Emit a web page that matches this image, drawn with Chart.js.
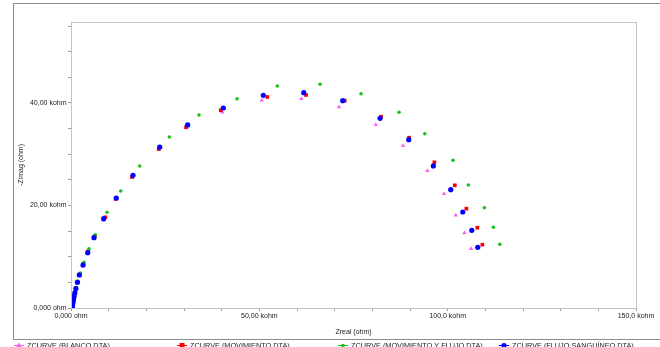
<!DOCTYPE html>
<html lang="es">
<head>
  <meta charset="UTF-8" />
  <title>ZCURVE - Nyquist</title>
  <style>
    html, body { margin: 0; padding: 0; background: #fff; }
    #wrap { width: 660px; height: 347px; }
  </style>
  <script src="https://cdn.jsdelivr.net/npm/chart.js"></script>
</head>
<body>
  <div id="wrap"><canvas id="nyquist" width="660" height="347"></canvas></div>

  <script>
    // values in kohm
    const blancoX = [0.28,0.30,0.32,0.35,0.39,0.43,0.49,0.57,0.67,0.80,1.00,1.28,1.68,2.15,3.10,4.35,6.00,8.55,11.85,16.30,23.30,30.62,40.18,50.64,61.15,71.16,80.91,88.16,94.61,99.04,102.15,104.43,106.21];
    const blancoY = [0.19,0.27,0.37,0.49,0.64,0.83,1.08,1.38,1.77,2.28,2.92,3.78,4.90,6.30,8.20,10.60,13.50,17.10,21.10,25.50,30.90,35.18,38.19,40.53,40.84,39.22,35.77,31.67,26.79,22.30,18.09,14.63,11.57];

    const movimientoX = [0.30,0.32,0.34,0.37,0.41,0.46,0.52,0.60,0.70,0.86,1.06,1.35,1.75,2.30,3.30,4.60,6.30,9.11,11.87,16.20,23.29,30.54,39.75,52.12,62.40,72.68,82.32,89.75,96.47,101.89,104.97,107.89,109.21];
    const movimientoY = [0.21,0.29,0.39,0.51,0.67,0.87,1.12,1.45,1.85,2.35,3.00,3.90,5.10,6.60,8.60,11.10,14.00,17.70,21.33,25.56,31.02,35.26,38.58,41.17,41.56,40.45,37.33,33.23,28.43,23.94,19.38,15.67,12.35];

    const movFlujoX = [0.30,0.32,0.34,0.37,0.41,0.46,0.52,0.60,0.70,0.85,1.05,1.35,1.78,2.47,3.45,4.78,6.45,9.56,13.20,18.24,26.10,33.99,44.08,54.78,66.12,77.00,87.09,93.92,101.43,105.50,109.74,112.14,113.84];
    const movFlujoY = [0.22,0.30,0.40,0.52,0.68,0.88,1.14,1.47,1.88,2.40,3.10,4.00,5.27,6.83,8.92,11.57,14.30,18.67,22.83,27.71,33.37,37.66,40.84,43.32,43.65,41.81,38.19,34.01,28.82,24.00,19.57,15.75,12.43];

    const flujoX = [0.29,0.31,0.33,0.36,0.40,0.44,0.50,0.58,0.68,0.82,1.02,1.30,1.70,2.20,3.19,4.43,6.11,8.68,12.03,16.46,23.55,30.98,40.44,51.06,61.79,72.15,82.05,89.67,96.20,100.82,104.01,106.40,107.99];
    const flujoY = [0.20,0.28,0.38,0.50,0.65,0.85,1.10,1.40,1.80,2.30,2.95,3.80,5.00,6.44,8.39,10.79,13.72,17.43,21.46,25.89,31.41,35.71,39.02,41.50,42.01,40.45,37.01,32.84,27.71,23.08,18.73,15.16,11.84];

    const seriesNames = ['ZCURVE (BLANCO.DTA)', 'ZCURVE (MOVIMIENTO.DTA)', 'ZCURVE (MOVIMIENTO Y FLUJO.DTA)', 'ZCURVE (FLUJO SANGUÍNEO.DTA)'];

    const xTickValues = [0, 50, 100, 150];
    const xTickLabels = ['0,000 ohm', '50,00 kohm', '100,0 kohm', '150,0 kohm'];
    const yTickValues = [0, 20, 40];
    const yTickLabels = ['0,000 ohm', '20,00 kohm', '40,00 kohm'];

    const FONT = 'Liberation Sans, Arial, sans-serif';

    function pairs(xs, ys) {
      return xs.map((x, i) => ({ x: x, y: ys[i] }));
    }

    function labelFor(values, labels) {
      return function (v) {
        const i = values.findIndex(t => Math.abs(t - v) < 1e-6);
        return i >= 0 ? labels[i] : '';
      };
    }

    // gray outer frame, plot box and the legend strip at the bottom
    const framePlugin = {
      id: 'frame',
      beforeDraw(chart) {
        const c = chart.ctx;
        c.save();
        c.fillStyle = '#fff';
        c.fillRect(0, 0, chart.width, chart.height);
        c.restore();
      },
      afterDraw(chart) {
        const c = chart.ctx;
        const a = chart.chartArea;
        c.save();
        c.strokeStyle = '#8c8c8c';
        c.lineWidth = 1;
        c.strokeRect(13.5, 3.5, 700, 336);
        c.strokeStyle = '#c4c4c4';
        c.strokeRect(Math.round(a.left) + 0.5, Math.round(a.top) + 0.5,
                     Math.round(a.right - a.left), Math.round(a.bottom - a.top));

        // legend
        const xs = [19, 182, 343, 504];
        const y = 345.5;
        c.font = '7.3px ' + FONT;
        c.textBaseline = 'middle';
        chart.data.datasets.forEach((ds, i) => {
          const cx = xs[i];
          c.strokeStyle = ds.borderColor;
          c.lineWidth = 1;
          c.beginPath();
          c.moveTo(cx - 5, y);
          c.lineTo(cx + 5, y);
          c.stroke();
          c.fillStyle = ds.backgroundColor;
          if (ds.pointStyle === 'rect') {
            c.fillRect(cx - 2.5, y - 2.5, 5, 5);
          } else if (ds.pointStyle === 'triangle') {
            c.beginPath();
            c.moveTo(cx, y - 3);
            c.lineTo(cx + 3, y + 2);
            c.lineTo(cx - 3, y + 2);
            c.closePath();
            c.fill();
          } else {
            c.beginPath();
            c.arc(cx, y, ds.pointRadius, 0, Math.PI * 2);
            c.fill();
          }
          c.fillStyle = '#222';
          c.textAlign = 'left';
          c.fillText(ds.label, cx + 8, y + 0.5);
        });
        c.restore();
      }
    };

    const ctx = document.getElementById('nyquist').getContext('2d');

    new Chart(ctx, {
      type: 'scatter',
      data: {
        datasets: [{
          label: seriesNames[0],
          data: pairs(blancoX, blancoY),
          pointStyle: 'triangle',
          pointRadius: 2.5,
          backgroundColor: '#ff5cff',
          borderColor: '#ff5cff',
          borderWidth: 0,
          order: 3
        }, {
          label: seriesNames[1],
          data: pairs(movimientoX, movimientoY),
          pointStyle: 'rect',
          pointRadius: 2.6,
          backgroundColor: '#ff0000',
          borderColor: '#ff0000',
          borderWidth: 0,
          order: 2
        }, {
          label: seriesNames[2],
          data: pairs(movFlujoX, movFlujoY),
          pointStyle: 'circle',
          pointRadius: 1.8,
          backgroundColor: '#19c219',
          borderColor: '#19c219',
          borderWidth: 0,
          order: 1
        }, {
          label: seriesNames[3],
          data: pairs(flujoX, flujoY),
          pointStyle: 'circle',
          pointRadius: 2.6,
          backgroundColor: '#0000ff',
          borderColor: '#0000ff',
          borderWidth: 0,
          order: 0
        }]
      },
      options: {
        responsive: false,
        animation: false,
        layout: { padding: { left: 0, top: 22, right: 24, bottom: 0 } },
        plugins: {
          legend: { display: false },
          tooltip: { enabled: false }
        },
        scales: {
          x: {
            type: 'linear',
            min: 0,
            max: 150,
            afterFit(scale) { scale.height = 39; },
            border: { display: false },
            grid: { drawOnChartArea: false, drawTicks: true, tickLength: 3, color: '#9a9a9a' },
            ticks: {
              stepSize: 10,
              autoSkip: false,
              maxRotation: 0,
              padding: 1,
              color: '#222',
              font: { family: FONT, size: 7 },
              callback: labelFor(xTickValues, xTickLabels)
            },
            title: {
              display: true,
              text: 'Zreal (ohm)',
              color: '#222',
              font: { family: FONT, size: 7 },
              padding: { top: 0, bottom: 10.5 }
            }
          },
          y: {
            type: 'linear',
            min: 0,
            max: 55.8,
            afterFit(scale) { scale.width = 71; },
            border: { display: false },
            grid: { drawOnChartArea: false, drawTicks: true, tickLength: 3, color: '#9a9a9a' },
            ticks: {
              stepSize: 5,
              includeBounds: false,
              autoSkip: false,
              padding: 1.5,
              color: '#222',
              font: { family: FONT, size: 7 },
              callback: labelFor(yTickValues, yTickLabels)
            },
            title: {
              display: true,
              text: '-Zimag (ohm)',
              color: '#222',
              font: { family: FONT, size: 7 },
              padding: { top: 16.8, bottom: 0 }
            }
          }
        }
      },
      plugins: [framePlugin]
    });
  </script>
</body>
</html>
